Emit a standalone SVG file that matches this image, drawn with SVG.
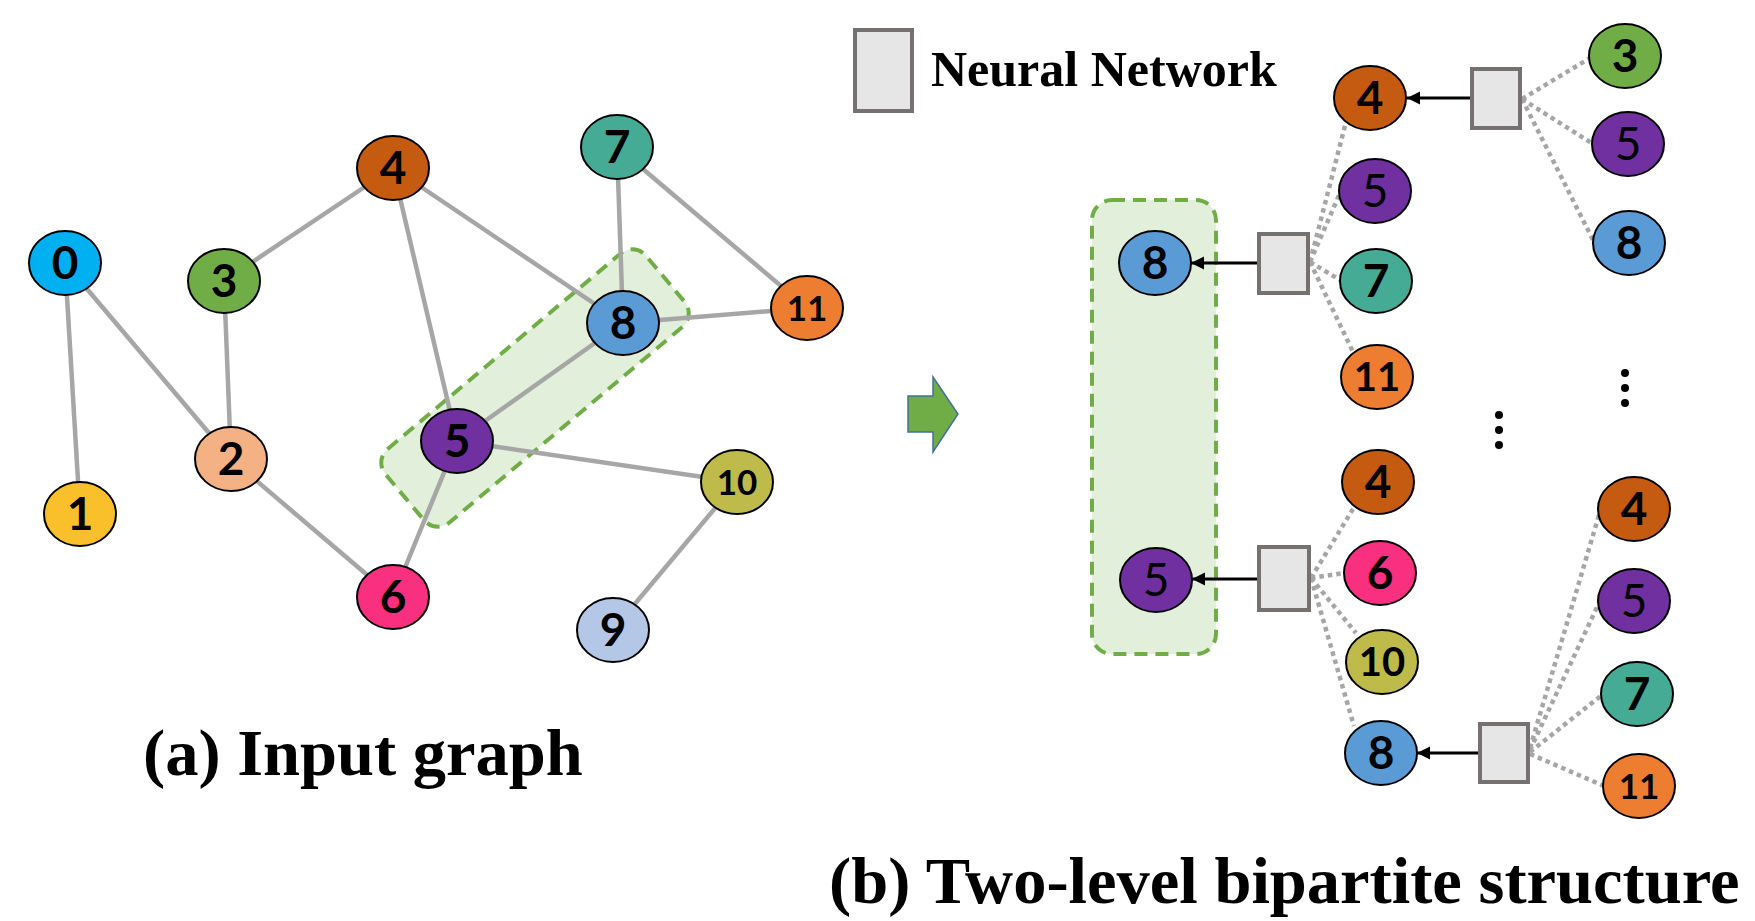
<svg xmlns="http://www.w3.org/2000/svg" width="1755" height="921" viewBox="0 0 1755 921">
<style>
.nd{stroke:#000;stroke-width:2}
.t{font-family:Lato,"Open Sans","Liberation Sans",sans-serif;font-weight:bold;font-size:46px;text-anchor:middle;fill:#000}
.tr{font-weight:normal}
.ts{font-size:35px}
.tm{font-size:40px}
.e{stroke:#A6A6A6;stroke-width:4.5;fill:none}
.d{stroke:#A6A6A6;stroke-width:4.5;stroke-dasharray:4.5 4;fill:none}
.a{stroke:#000;stroke-width:3;fill:none}
.nn{fill:#E7E6E6;stroke:#767171;stroke-width:4}
.grp{fill:#E2EFDA;stroke:#70AD47;stroke-width:4;stroke-dasharray:13 8}
.cap{font-family:"Liberation Serif","Times New Roman",serif;font-weight:bold;fill:#000}
</style>
<defs>
<marker id="ah" markerUnits="userSpaceOnUse" markerWidth="14" markerHeight="14" refX="13" refY="6.5" orient="auto">
<path d="M0,0 L13,6.5 L0,13 z" fill="#000"/>
</marker>
</defs>
<rect width="1755" height="921" fill="#fff"/>

<g id="highlight-a">
<rect class="grp" x="365" y="340" width="340" height="96" rx="18" transform="rotate(-40 535 388)"/>
</g>

<g id="connectors">
<line class="e" x1="65" y1="263" x2="80" y2="514"/>
<line class="e" x1="65" y1="263" x2="231" y2="459"/>
<line class="e" x1="224" y1="281" x2="231" y2="459"/>
<line class="e" x1="224" y1="281" x2="393" y2="168"/>
<line class="e" x1="393" y1="168" x2="457" y2="441"/>
<line class="e" x1="393" y1="168" x2="623" y2="323"/>
<line class="e" x1="617" y1="147" x2="623" y2="323"/>
<line class="e" x1="617" y1="147" x2="807" y2="308"/>
<line class="e" x1="623" y1="323" x2="807" y2="308"/>
<line class="e" x1="623" y1="323" x2="457" y2="441"/>
<line class="e" x1="457" y1="441" x2="737" y2="482"/>
<line class="e" x1="457" y1="441" x2="393" y2="597"/>
<line class="e" x1="231" y1="459" x2="393" y2="597"/>
<line class="e" x1="737" y1="482" x2="613" y2="630"/>
</g>

<g id="graph-nodes">
<g id="a0"><ellipse class="nd" cx="65" cy="263" rx="36" ry="32" fill="#00B0F0"/><text class="t" x="65" y="279">0</text></g>
<g id="a1"><ellipse class="nd" cx="80" cy="514" rx="36" ry="32" fill="#FAC02B"/><text class="t" x="80" y="530">1</text></g>
<g id="a2"><ellipse class="nd" cx="231" cy="459" rx="36" ry="32" fill="#F4B183"/><text class="t" x="231" y="475">2</text></g>
<g id="a3"><ellipse class="nd" cx="224" cy="281" rx="36" ry="32" fill="#70AD47"/><text class="t" x="224" y="297">3</text></g>
<g id="a4"><ellipse class="nd" cx="393" cy="168" rx="36" ry="32" fill="#C55A11"/><text class="t" x="393" y="184">4</text></g>
<g id="a5"><ellipse class="nd" cx="457" cy="441" rx="36" ry="32" fill="#7030A0"/><text class="t" x="457" y="457">5</text></g>
<g id="a6"><ellipse class="nd" cx="393" cy="597" rx="36" ry="32" fill="#F92F7F"/><text class="t" x="393" y="613">6</text></g>
<g id="a7"><ellipse class="nd" cx="617" cy="147" rx="36" ry="32" fill="#45AB95"/><text class="t" x="617" y="163">7</text></g>
<g id="a8"><ellipse class="nd" cx="623" cy="323" rx="36" ry="32" fill="#5B9BD5"/><text class="t" x="623" y="339">8</text></g>
<g id="a9"><ellipse class="nd" cx="613" cy="630" rx="36" ry="32" fill="#B4C7E7"/><text class="t" x="613" y="646">9</text></g>
<g id="a10"><ellipse class="nd" cx="737" cy="482" rx="36" ry="32" fill="#BFBB4A"/><text class="t ts" x="737" y="494.5">10</text></g>
<g id="a11"><ellipse class="nd" cx="807" cy="308" rx="36" ry="32" fill="#ED7D31"/><text class="t ts" x="807" y="320.5">11</text></g>
</g>

<text class="cap" x="143" y="775" font-size="66.5">(a) Input graph</text>

<g id="legend">
<rect class="nn" x="855" y="30" width="57" height="81"/>
<text class="cap" x="931" y="86" font-size="50">Neural Network</text>
</g>

<g id="transition-arrow">
<polygon points="908,396 933,396 933,377 958,414 933,452 933,432 908,432" fill="#70AD47" stroke="#41719C" stroke-width="1.5"/>
</g>

<g id="highlight-b">
<rect class="grp" x="1092" y="200" width="124" height="454" rx="20"/>
</g>

<g id="connectors-b">
<line class="d" x1="1522" y1="99" x2="1590" y2="58"/>
<line class="d" x1="1522" y1="99" x2="1593" y2="144"/>
<line class="d" x1="1522" y1="99" x2="1594" y2="242"/>
<line class="d" x1="1310" y1="262" x2="1346" y2="122"/>
<line class="d" x1="1310" y1="262" x2="1340" y2="193"/>
<line class="d" x1="1310" y1="262" x2="1340" y2="280"/>
<line class="d" x1="1310" y1="262" x2="1353" y2="352"/>
<line class="d" x1="1311" y1="578" x2="1353" y2="509"/>
<line class="d" x1="1311" y1="578" x2="1344" y2="573"/>
<line class="d" x1="1311" y1="578" x2="1356" y2="633"/>
<line class="d" x1="1311" y1="578" x2="1354" y2="726"/>
<line class="d" x1="1530" y1="748" x2="1599" y2="515"/>
<line class="d" x1="1530" y1="750" x2="1599" y2="603"/>
<line class="d" x1="1530" y1="752" x2="1602" y2="695"/>
<line class="d" x1="1530" y1="754" x2="1604" y2="786"/>
<line class="a" x1="1470" y1="98" x2="1407" y2="98" marker-end="url(#ah)"/>
<line class="a" x1="1257" y1="263" x2="1191" y2="263" marker-end="url(#ah)"/>
<line class="a" x1="1257" y1="579" x2="1192" y2="579" marker-end="url(#ah)"/>
<line class="a" x1="1478" y1="753" x2="1417" y2="753" marker-end="url(#ah)"/>
</g>

<g id="nn-boxes">
<rect id="nn-top" class="nn" x="1472" y="69" width="48" height="59"/>
<rect id="nn-mid1" class="nn" x="1259" y="234" width="49" height="59"/>
<rect id="nn-mid2" class="nn" x="1259" y="547" width="50" height="63"/>
<rect id="nn-bot" class="nn" x="1480" y="724" width="48" height="58"/>
</g>

<g id="bipartite-nodes">
<g id="b8"><ellipse class="nd" cx="1155" cy="263" rx="36" ry="32" fill="#5B9BD5"/><text class="t" x="1155" y="279">8</text></g>
<g id="b5"><ellipse class="nd" cx="1156" cy="580" rx="36" ry="32" fill="#7030A0"/><text class="t tr" x="1156" y="596">5</text></g>
<g id="t4"><ellipse class="nd" cx="1370" cy="98" rx="36" ry="32" fill="#C55A11"/><text class="t" x="1370" y="114">4</text></g>
<g id="m5"><ellipse class="nd" cx="1375" cy="191" rx="36" ry="32" fill="#7030A0"/><text class="t tr" x="1375" y="207">5</text></g>
<g id="m7"><ellipse class="nd" cx="1376" cy="281" rx="36" ry="32" fill="#45AB95"/><text class="t" x="1376" y="297">7</text></g>
<g id="m11"><ellipse class="nd" cx="1377" cy="377" rx="36" ry="32" fill="#ED7D31"/><text class="t tm" x="1377" y="391">11</text></g>
<g id="l4"><ellipse class="nd" cx="1378" cy="482" rx="36" ry="32" fill="#C55A11"/><text class="t" x="1378" y="498">4</text></g>
<g id="l6"><ellipse class="nd" cx="1380" cy="573" rx="36" ry="32" fill="#F92F7F"/><text class="t" x="1380" y="589">6</text></g>
<g id="l10"><ellipse class="nd" cx="1382" cy="662" rx="36" ry="32" fill="#BFBB4A"/><text class="t tm" x="1382" y="676">10</text></g>
<g id="l8"><ellipse class="nd" cx="1381" cy="753" rx="36" ry="32" fill="#5B9BD5"/><text class="t" x="1381" y="769">8</text></g>
<g id="c3"><ellipse class="nd" cx="1625" cy="56" rx="36" ry="32" fill="#70AD47"/><text class="t" x="1625" y="72">3</text></g>
<g id="c5"><ellipse class="nd" cx="1628" cy="144" rx="36" ry="32" fill="#7030A0"/><text class="t tr" x="1628" y="160">5</text></g>
<g id="c8"><ellipse class="nd" cx="1629" cy="243" rx="36" ry="32" fill="#5B9BD5"/><text class="t" x="1629" y="259">8</text></g>
<g id="d4"><ellipse class="nd" cx="1634" cy="509" rx="36" ry="32" fill="#C55A11"/><text class="t" x="1634" y="525">4</text></g>
<g id="d5"><ellipse class="nd" cx="1634" cy="601" rx="36" ry="32" fill="#7030A0"/><text class="t tr" x="1634" y="617">5</text></g>
<g id="d7"><ellipse class="nd" cx="1637" cy="694" rx="36" ry="32" fill="#45AB95"/><text class="t" x="1637" y="710">7</text></g>
<g id="d11"><ellipse class="nd" cx="1639" cy="786" rx="36" ry="32" fill="#ED7D31"/><text class="t ts" x="1639" y="798.5">11</text></g>
</g>

<g id="ellipsis" fill="#000">
<circle cx="1625" cy="373" r="4"/><circle cx="1625" cy="388" r="4"/><circle cx="1625" cy="403" r="4"/>
<circle cx="1499" cy="415" r="4"/><circle cx="1499" cy="430" r="4"/><circle cx="1499" cy="445" r="4"/>
</g>

<text class="cap" x="829" y="903" font-size="66.5">(b) Two-level bipartite structure</text>
</svg>
